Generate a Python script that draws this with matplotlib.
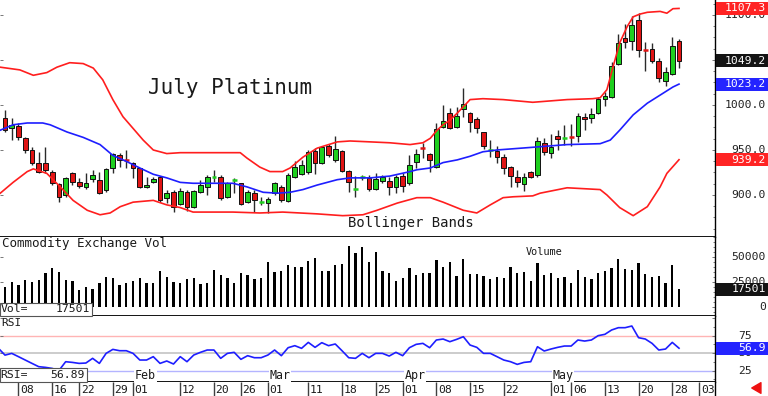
import numpy as np
import matplotlib
matplotlib.use("Agg")
import matplotlib.pyplot as plt
from matplotlib.patches import Rectangle, FancyArrowPatch
from matplotlib.ticker import MultipleLocator

# ---------------- data ----------------
opens = [985.6, 974.4, 976.7, 963.3, 950.0, 935.6, 935.6, 925.6, 912.2, 900.0,
         924.4, 914.4, 908.9, 917.8, 916.7, 905.6, 930.0, 944.4, 939.4, 935.6,
         930.0, 908.9, 914.4, 920.0, 896.7, 903.3, 890.0, 903.3, 886.7, 903.3,
         908.9, 919.5, 920.0, 897.8, 916.2, 913.3, 892.2, 902.2, 892.2, 891.1,
         902.2, 908.9, 893.3, 920.0, 923.3, 925.6, 948.9, 935.6, 954.4, 938.9,
         948.9, 926.7, 906.1, 919.5, 918.9, 906.7, 915.6, 915.6, 908.9, 921.1,
         913.3, 936.7, 952.2, 945.6, 931.1, 975.6, 991.1, 975.6, 995.6, 991.1,
         984.4, 970.0, 949.5, 948.9, 942.2, 931.1, 920.0, 912.2, 925.6, 922.2,
         957.8, 946.7, 965.6, 963.3, 964.9, 965.6, 986.7, 985.6, 991.1, 1006.7,
         1008.9, 1045.6, 1074.4, 1071.1, 1094.4, 1061.6, 1062.2, 1048.9, 1026.7, 1034.4,
         1071.1]
highs = [994.4, 985.6, 980.0, 964.4, 953.3, 947.8, 953.3, 927.8, 913.3, 920.0,
         925.6, 918.9, 924.4, 927.8, 925.6, 930.0, 946.7, 946.7, 950.0, 936.7,
         930.5, 920.0, 920.0, 921.1, 905.6, 905.6, 907.8, 905.6, 905.6, 916.7,
         922.2, 927.8, 922.2, 914.4, 918.9, 913.8, 905.6, 905.6, 898.0, 897.8,
         914.4, 911.1, 924.4, 937.8, 938.9, 950.0, 952.2, 954.4, 956.7, 965.6,
         950.0, 927.8, 921.1, 922.0, 922.2, 924.4, 922.2, 920.0, 922.2, 924.4,
         944.4, 951.1, 957.8, 946.7, 980.0, 1000.0, 996.7, 997.8, 1018.9, 992.2,
         986.7, 970.5, 961.1, 954.4, 945.6, 932.2, 927.8, 924.4, 926.7, 964.4,
         963.3, 967.8, 972.2, 977.8, 978.9, 991.1, 991.1, 996.7, 1008.9, 1014.4,
         1047.8, 1078.9, 1090.0, 1098.9, 1102.2, 1070.0, 1068.9, 1052.2, 1042.2, 1075.6,
         1073.3]
lows = [970.0, 961.1, 961.1, 946.7, 933.3, 924.4, 924.4, 911.1, 892.2, 897.8,
        911.1, 907.8, 906.7, 914.4, 901.1, 903.3, 924.4, 931.1, 930.0, 918.9,
        907.8, 907.8, 913.3, 892.2, 891.1, 881.1, 888.9, 882.2, 885.6, 902.2,
        900.0, 914.4, 894.4, 896.7, 902.2, 888.9, 891.1, 881.1, 889.0, 880.0,
        900.0, 892.2, 892.2, 918.9, 922.2, 923.3, 923.3, 934.4, 942.2, 936.7,
        925.6, 903.3, 897.8, 917.0, 904.4, 905.6, 913.3, 900.0, 902.2, 903.3,
        911.1, 930.0, 941.1, 925.6, 930.0, 974.4, 973.3, 974.4, 986.7, 970.0,
        968.9, 951.1, 942.2, 935.6, 923.3, 908.9, 908.9, 904.4, 918.9, 920.0,
        944.4, 941.1, 950.0, 955.6, 954.4, 958.9, 972.2, 980.0, 990.0, 998.9,
        1007.8, 1044.4, 1063.3, 1061.1, 1053.3, 1037.8, 1046.7, 1025.6, 1021.1, 1033.3,
        1041.1]
closes = [972.2, 977.8, 964.4, 950.0, 935.6, 925.6, 927.8, 913.3, 897.8, 918.9,
          914.4, 910.0, 913.3, 922.2, 902.2, 928.9, 945.6, 938.9, 938.9, 930.0,
          908.9, 911.1, 917.8, 894.4, 902.2, 886.7, 904.4, 886.7, 904.4, 911.1,
          920.0, 920.0, 896.7, 913.3, 916.7, 890.0, 903.3, 894.4, 892.8, 895.6,
          913.3, 894.4, 922.2, 931.1, 933.3, 947.8, 935.6, 953.3, 944.4, 951.1,
          926.7, 914.4, 906.7, 920.0, 906.7, 917.8, 920.0, 908.9, 920.0, 910.0,
          933.3, 945.6, 951.7, 938.9, 973.3, 982.2, 974.4, 987.8, 1001.1, 981.1,
          974.4, 954.4, 950.0, 942.2, 930.0, 921.1, 914.4, 920.0, 920.0, 960.0,
          947.8, 953.3, 962.2, 963.8, 964.4, 987.8, 984.4, 990.0, 1006.7, 1010.0,
          1043.3, 1068.9, 1070.0, 1088.9, 1061.1, 1061.1, 1048.9, 1030.0, 1036.7, 1065.6,
          1049.2]
volumes = [20300, 25300, 22000, 27000, 25300, 27000, 33700, 38700, 34700, 27000,
           26000, 17000, 19700, 18000, 23700, 29700, 28700, 22000, 23700, 26300,
           28700, 24300, 24300, 36000, 30300, 24700, 24300, 27700, 28700, 23000,
           24300, 37000, 32300, 28700, 24300, 34300, 32300, 28000, 29300, 44700,
           34700, 36000, 41700, 40000, 40000, 45700, 49300, 36000, 36000, 41700,
           43000, 61000, 54300, 60300, 44700, 55300, 36000, 34300, 26300, 28700,
           38700, 32300, 34300, 33700, 47000, 40300, 45300, 31000, 47700, 32700,
           32700, 31000, 27700, 30300, 29000, 40300, 33700, 34700, 26000, 43700,
           32000, 34300, 28700, 29700, 23700, 37000, 29700, 27700, 34300, 36000,
           39300, 48000, 38000, 37000, 43700, 33000, 30300, 31300, 23700, 42000,
           17501]
# RSI from the bar before the first candle (index -1) to the last one
rsi = [57.0,
       47.0, 49.5, 44.8, 40.0, 35.2, 30.5, 29.5, 28.0, 25.0, 37.6,
       36.6, 35.2, 35.7, 42.4, 35.2, 49.5, 55.2, 53.3, 53.3, 49.5,
       40.0, 40.0, 44.8, 35.2, 38.6, 34.3, 44.8, 37.6, 47.1, 51.0,
       54.3, 54.3, 42.4, 49.5, 51.0, 41.0, 46.2, 43.3, 43.3, 47.1,
       54.3, 46.2, 57.6, 60.5, 56.7, 65.2, 58.1, 64.8, 60.5, 62.9,
       53.3, 43.3, 42.4, 49.5, 43.3, 49.5, 49.5, 45.7, 51.0, 46.2,
       57.6, 62.4, 63.8, 57.6, 68.6, 70.0, 66.2, 69.5, 73.3, 61.4,
       58.1, 49.5, 49.5, 44.8, 40.0, 37.6, 33.8, 36.6, 37.6, 59.0,
       52.9, 55.7, 58.1, 60.0, 60.0, 68.6, 67.1, 68.6, 74.8, 76.7,
       82.9, 86.2, 86.2, 88.6, 71.9, 70.0, 63.8, 54.3, 55.7, 65.2,
       56.89]

# Bollinger bands (bar position, price)
upper_x = [-0.7, 2.2, 4.2, 6.2, 7.7, 9.6, 11.6, 13.1, 14.5, 16.0, 17.5, 19.0, 20.5, 22.0,
           24.0, 26.0, 31.9, 34.9, 35.9, 37.8, 39.3, 41.2, 42.3, 44.2, 46.3, 49.3, 51.2,
           54.2, 57.1, 60.1, 62.0, 63.1, 64.1, 65.0, 66.0, 67.1, 68.0, 69.0, 70.9, 73.9,
           78.3, 83.4, 87.2, 88.3, 89.3, 90.2, 91.2, 92.3, 93.2, 94.2, 95.3, 97.2, 98.2,
           99.1, 100.0]
upper_v = [1042, 1039, 1033, 1036, 1042, 1047, 1046, 1041, 1028, 1006, 987, 974, 961, 950,
           946, 947, 947, 947, 941, 931, 926, 926, 930, 942, 952, 959, 960,
           959, 958, 956, 958, 963, 972, 978, 983, 991, 998, 1006, 1007, 1006,
           1003, 1006, 1007, 1008, 1017, 1042, 1069, 1087, 1098, 1101, 1103, 1104, 1102,
           1107, 1107.3]
mid_x = [-0.7, 1.2, 3.3, 5.6, 6.7, 9.2, 11.6, 14.1, 16.0, 18.1, 20.0, 22.0, 24.0, 26.0,
         27.9, 33.8, 35.9, 38.3, 40.4, 42.3, 44.2, 46.3, 49.3, 51.2, 54.2, 57.1, 60.1,
         61.1, 63.1, 65.0, 67.1, 69.0, 70.9, 73.0, 78.3, 83.4, 88.3, 89.8, 91.2, 93.2,
         95.3, 97.2, 99.1, 100.0]
mid_v = [972, 978, 980, 980, 978, 970, 964, 956, 944, 937, 930, 923, 919, 914,
         913, 913, 909, 903, 902, 903, 906, 911, 917, 919, 919, 921, 926,
         928, 930, 936, 939, 943, 948, 950, 953, 956, 957, 961, 972, 989,
         1002, 1011, 1020, 1023.2]
lower_x = [-0.7, 1.2, 3.3, 4.2, 6.2, 8.2, 10.1, 12.2, 14.1, 15.6, 17.1, 19.0, 22.0, 24.0,
           26.0, 27.9, 33.8, 37.8, 41.2, 46.3, 50.1, 53.1, 55.2, 58.2, 61.1, 63.1, 65.0,
           68.0, 70.0, 72.0, 73.9, 75.4, 78.3, 79.4, 83.4, 88.3, 89.3, 91.2, 93.2, 95.3,
           97.2, 98.2, 100.0]
lower_v = [902, 914, 926, 929, 924, 909, 894, 883, 878, 880, 887, 892, 894, 889,
           886, 881, 881, 880, 881, 879, 877, 878, 883, 891, 897, 897, 892,
           883, 880, 889, 897, 898, 899, 902, 908, 906, 900, 886, 877, 887,
           909, 924, 939.2]

# date axis
tick_bars = [2, 7, 11, 16, 19, 26, 31, 35, 39, 45, 50, 55, 59, 64, 69, 74, 81, 84, 89, 94, 99, 103]
tick_labels = ["08", "16", "22", "29", "01", "12", "20", "26", "01", "11", "18", "25",
               "01", "08", "15", "22", "01", "06", "13", "20", "28", "03"]
month_bars = [19, 39, 59, 81]
month_labels = ["Feb", "Mar", "Apr", "May"]

title = "July Platinum"
price_ticks = [1100, 1000, 950, 900]
vol_ticks = [50000, 25000, 0]
rsi_ticks = [75, 50, 25]

# ---------------- figure ----------------
FONT = "DejaVu Sans Mono"
plt.rcParams['font.family'] = [FONT, 'DejaVu Sans']
W, H = 768, 396
fig = plt.figure(figsize=(W / 100, H / 100), dpi=100)
fig.patch.set_facecolor("white")

RED = "#e01414"
GREEN = "#1ecf1e"
BAND = "#ff1e1e"
BLUE = "#1e1eff"
TXT = "#1a1a1a"


def px_axes(x0, y0, x1, y1):
    return fig.add_axes([x0 / W, 1 - y1 / H, (x1 - x0) / W, (y1 - y0) / H])


XL = (-0.742, 105.34)
ax_p = px_axes(0, 0, 715, 237)
ax_v = px_axes(0, 237, 715, 316)
ax_r = px_axes(0, 316, 715, 382)
ax_d = px_axes(0, 382, 715, 396)

for ax in (ax_p, ax_v, ax_r, ax_d):
    ax.set_xlim(*XL)
    ax.set_facecolor("white")
    ax.spines["top"].set_visible(False)
    ax.spines["left"].set_visible(False)
    ax.spines["right"].set_linewidth(1.0)
    ax.spines["bottom"].set_linewidth(1.3)
    ax.set_xticks([])
    ax.yaxis.tick_right()
    ax.tick_params(axis="y", which="major", direction="in", right=True, left=True,
                   labelright=False, labelleft=False, length=2, width=0.7, color="#777")
    ax.tick_params(axis="y", which="minor", direction="in", right=True, left=False,
                   length=1.5, width=0.6, color="#666")
ax_d.spines["bottom"].set_visible(False)

# ---- price panel ----
ax_p.set_ylim(853.3, 1116.67)
ax_p.yaxis.set_major_locator(MultipleLocator(50))
ax_p.yaxis.set_minor_locator(MultipleLocator(12.5))
for i, (o, h, l, c) in enumerate(zip(opens, highs, lows, closes)):
    ax_p.vlines(i, l, h, color="#2a2a2a", lw=1.0, zorder=2)
    col = GREEN if c >= o else RED
    if abs(c - o) < 1.0:
        ax_p.hlines((o + c) / 2, i - 0.36, i + 0.36, color=col, lw=1.8, zorder=3)
    else:
        ax_p.add_patch(Rectangle((i - 0.35, min(o, c)), 0.70, abs(c - o),
                                 facecolor=col, edgecolor="#111", lw=0.7, zorder=3))
ax_p.plot(upper_x, upper_v, color=BAND, lw=1.2, zorder=4)
ax_p.plot(lower_x, lower_v, color=BAND, lw=1.2, zorder=4)
ax_p.plot(mid_x, mid_v, color=BLUE, lw=1.2, zorder=4)

fig.text(148 / W, 1 - 88 / H, title, fontsize=15, ha="left", va="center", color=TXT)
fig.text(348 / W, 1 - 223 / H, "Bollinger Bands", fontsize=10, ha="left", va="center", color=TXT)

# ---- volume panel ----
ax_v.set_ylim(-9000, 70000)
ax_v.yaxis.set_major_locator(MultipleLocator(25000))
ax_v.yaxis.set_minor_locator(MultipleLocator(5000))
ax_v.bar(np.arange(len(volumes)), volumes, width=0.34, color="black", zorder=2)
fig.text(2 / W, 1 - 244 / H, "Commodity Exchange Vol", fontsize=9, ha="left", va="center", color=TXT)
fig.text(526 / W, 1 - 252 / H, "Volume", fontsize=7.4, ha="left", va="center", color=TXT)

# ---- RSI panel ----
ax_r.set_ylim(8.6, 102.9)
ax_r.yaxis.set_major_locator(MultipleLocator(25))
ax_r.yaxis.set_minor_locator(MultipleLocator(12.5))
ax_r.axhline(75, color="#ffb4b4", lw=1.0, zorder=1)
ax_r.axhline(50, color="#c4c4c4", lw=1.2, zorder=1)
ax_r.axhline(25, color="#b4b4ff", lw=1.0, zorder=1)
ax_r.plot(np.arange(-1, len(rsi) - 1), rsi, color=BLUE, lw=1.2, zorder=3)
fig.text(1 / W, 1 - 323 / H, "RSI", fontsize=8, ha="left", va="center", color=TXT)
xt = ax_r.get_xaxis_transform()
for b, lab in zip(month_bars, month_labels):
    ax_r.text(b + 0.25, 0.105, lab, transform=xt, fontsize=8.4, ha="left", va="center",
              color=TXT, zorder=5,
              bbox=dict(facecolor="white", edgecolor="none", pad=0.6))

# ---- date row ----
ax_d.set_ylim(0, 1)
ax_d.set_yticks([])
ax_d.vlines(tick_bars, 0, 1, color="#404040", lw=1.0)
for b, lab in zip(tick_bars, tick_labels):
    ax_d.text(b + 0.25, 0.42, lab, fontsize=8.2, ha="left", va="center", color=TXT)


# ---- right-hand labels and value boxes ----
def rlabel(ax, val, s, x_px=766):
    y = ax.transData.transform((0, val))[1]
    fig.text(x_px / W, y / H, s, ha="right", va="center", fontsize=8.2, color="#222", zorder=3)


def rbox(ax, val, s, fc):
    y = ax.transData.transform((0, val))[1]
    fig.add_artist(Rectangle((716 / W, (y - 6.5) / H), 52 / W, 13 / H, transform=fig.transFigure,
                             facecolor=fc, edgecolor="none", zorder=5))
    fig.text(766 / W, y / H, s, ha="right", va="center", fontsize=8.2, color="white", zorder=6)


for v in price_ticks:
    rlabel(ax_p, v, f"{v:.1f}")
for v in vol_ticks:
    rlabel(ax_v, v, f"{v}")
for v in rsi_ticks:
    rlabel(ax_r, v, f"{v}", x_px=752)

rbox(ax_p, upper_v[-1], f"{upper_v[-1]:.1f}", "#ff2424")
rbox(ax_p, closes[-1], f"{closes[-1]:.1f}", "#141414")
rbox(ax_p, mid_v[-1], f"{mid_v[-1]:.1f}", "#2424ff")
rbox(ax_p, lower_v[-1], f"{lower_v[-1]:.1f}", "#ff2424")
rbox(ax_v, volumes[-1], f"{volumes[-1]}", "#141414")
rbox(ax_r, rsi[-1], f"{rsi[-1]:.1f}", "#2424ff")

# bottom-left readout boxes
fig.add_artist(Rectangle((0, 1 - 316 / H), 92 / W, 13 / H, transform=fig.transFigure,
                         facecolor="white", edgecolor="#555", lw=0.8, zorder=5))
fig.text(0.5 / W, 1 - 309.5 / H, "Vol=", fontsize=8.2, ha="left", va="center", color=TXT, zorder=6)
fig.text(90 / W, 1 - 309.5 / H, f"{volumes[-1]}", fontsize=8.2, ha="right", va="center", color=TXT, zorder=6)
fig.add_artist(Rectangle((0, 1 - 382 / H), 87 / W, 14 / H, transform=fig.transFigure,
                         facecolor="white", edgecolor="#555", lw=0.8, zorder=5))
fig.text(0.5 / W, 1 - 375 / H, "RSI=", fontsize=8.2, ha="left", va="center", color=TXT, zorder=6)
fig.text(85 / W, 1 - 375 / H, f"{rsi[-1]:.2f}", fontsize=8.2, ha="right", va="center", color=TXT, zorder=6)

# small red arrow bottom right
fig.add_artist(FancyArrowPatch((763 / W, 8 / H), (749 / W, 8 / H),
                               transform=fig.transFigure,
                               arrowstyle="simple,head_width=0.7,head_length=0.6,tail_width=0.3",
                               mutation_scale=11, color="#ee1111"))

fig.savefig("out.png", dpi=100, facecolor="white")
